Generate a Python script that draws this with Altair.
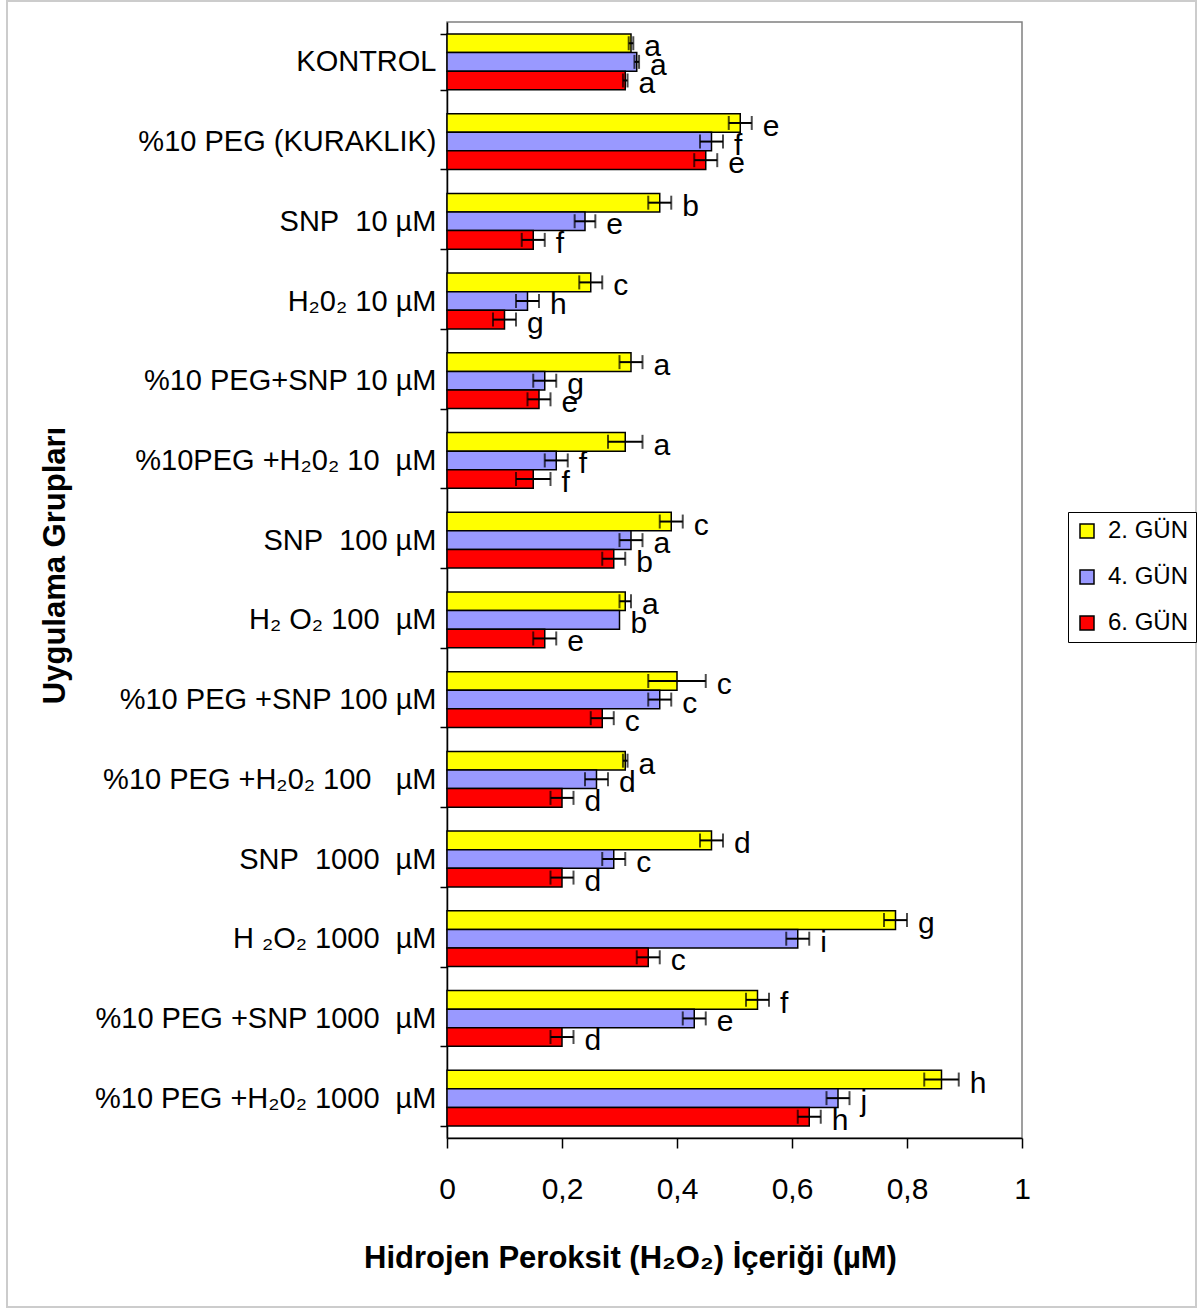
import altair as alt
import pandas as pd

NB = "\u00a0"  # keeps the wide gaps inside the group names

# Treatment groups (top to bottom)
groups = [
    "KONTROL",
    "%10 PEG (KURAKLIK)",
    "SNP" + NB * 2 + "10 µM",
    "H₂0₂ 10 µM",
    "%10 PEG+SNP 10 µM",
    "%10PEG +H₂0₂ 10" + NB * 2 + "µM",
    "SNP" + NB * 2 + "100 µM",
    "H₂ O₂ 100" + NB * 2 + "µM",
    "%10 PEG +SNP 100 µM",
    "%10 PEG +H₂0₂ 100" + NB * 3 + "µM",
    "SNP" + NB * 2 + "1000" + NB * 2 + "µM",
    "H ₂O₂ 1000" + NB * 2 + "µM",
    "%10 PEG +SNP 1000" + NB * 2 + "µM",
    "%10 PEG +H₂0₂ 1000" + NB * 2 + "µM",
]

days = ["2. GÜN", "4. GÜN", "6. GÜN"]
day_colors = ["#FFFF00", "#9999FF", "#FF0000"]

# Mean H2O2 content per day
day2 = [0.32, 0.51, 0.37, 0.25, 0.32, 0.31, 0.39, 0.31, 0.40, 0.31, 0.46, 0.78, 0.54, 0.86]
day4 = [0.33, 0.46, 0.24, 0.14, 0.17, 0.19, 0.32, 0.30, 0.37, 0.26, 0.29, 0.61, 0.43, 0.68]
day6 = [0.31, 0.45, 0.15, 0.10, 0.16, 0.15, 0.29, 0.17, 0.27, 0.20, 0.20, 0.35, 0.20, 0.63]

# Standard errors
err2 = [0.004, 0.02, 0.02, 0.02, 0.02, 0.03, 0.02, 0.01, 0.05, 0.004, 0.02, 0.02, 0.02, 0.03]
err4 = [0.004, 0.02, 0.018, 0.02, 0.02, 0.02, 0.02, 0.0, 0.02, 0.02, 0.02, 0.02, 0.02, 0.02]
err6 = [0.004, 0.02, 0.02, 0.02, 0.02, 0.03, 0.02, 0.02, 0.02, 0.02, 0.02, 0.02, 0.02, 0.02]

# Significance letters
let2 = ["a", "e", "b", "c", "a", "a", "c", "a", "c", "a", "d", "g", "f", "h"]
let4 = ["a", "f", "e", "h", "g", "f", "a", "b", "c", "d", "c", "i", "e", "j"]
let6 = ["a", "e", "f", "g", "e", "f", "b", "e", "c", "d", "d", "c", "d", "h"]

rows = []
for day, vals, errs, lets in zip(days, [day2, day4, day6], [err2, err4, err6], [let2, let4, let6]):
    for g, v, e, l in zip(groups, vals, errs, lets):
        rows.append({"grup": g, "gun": day, "deger": v, "hata": e,
                     "alt": v - e, "ust": v + e, "harf": l})
df = pd.DataFrame(rows)

FONT = "Liberation Sans"

y_enc = alt.Y("grup:N", sort=groups,
              scale=alt.Scale(paddingInner=0.3, paddingOuter=0.15),
              axis=alt.Axis(title="Uygulama Grupları", tickBand="extent",
                            labelFontSize=29, labelLimit=420, labelPadding=4,
                            tickSize=7, titleFontSize=31, titleFontWeight="bold",
                            titleX=-392, titleY=543, titleAlign="center",
                            titleBaseline="middle"))
yoff = alt.YOffset("gun:N", sort=days)

x_scale = alt.Scale(domain=[0, 1], nice=False)

bars = alt.Chart(df).mark_bar(stroke="black", strokeWidth=1.5).encode(
    x=alt.X("deger:Q", scale=x_scale,
            axis=alt.Axis(title="Hidrojen Peroksit (H₂O₂) İçeriği (µM)",
                          values=[0, 0.2, 0.4, 0.6, 0.8, 1], format=".1~f",
                          labelExpr="replace(datum.label, '.', ',')",
                          labelFlush=False,
                          labelFontSize=30, labelPadding=26, tickSize=10,
                          titleFontSize=31, titleFontWeight="bold",
                          titleX=183, titleY=120, titleAlign="center",
                          titleBaseline="middle")),
    y=y_enc,
    yOffset=yoff,
    color=alt.Color("gun:N", sort=days,
                    scale=alt.Scale(domain=days, range=day_colors),
                    legend=alt.Legend(title=None, orient="none", legendX=621, legendY=490,
                                      symbolType="square", symbolSize=196,
                                      symbolStrokeColor="black", symbolStrokeWidth=1.5,
                                      labelFontSize=24, labelOffset=9,
                                      rowPadding=22, padding=7,
                                      strokeColor="black", fillColor="white")),
)

err_data = alt.Chart(df).transform_filter("datum.hata > 0")

err_lines = err_data.mark_rule(color="black", strokeWidth=2).encode(
    x=alt.X("alt:Q", scale=x_scale), x2="ust:Q", y=alt.Y("grup:N", sort=groups), yOffset=yoff)

caps_lo = err_data.mark_tick(color="black", thickness=2, size=14).encode(
    x=alt.X("alt:Q", scale=x_scale), y=alt.Y("grup:N", sort=groups), yOffset=yoff)
caps_hi = err_data.mark_tick(color="black", thickness=2, size=14).encode(
    x=alt.X("ust:Q", scale=x_scale), y=alt.Y("grup:N", sort=groups), yOffset=yoff)

letters = alt.Chart(df).mark_text(align="left", baseline="middle", dx=11, dy=4,
                                  fontSize=30, font=FONT, color="black").encode(
    x=alt.X("ust:Q", scale=x_scale), y=alt.Y("grup:N", sort=groups), yOffset=yoff,
    text="harf:N")

# light frame around the whole figure
frame = alt.Chart(pd.DataFrame({"k": [0]})).mark_rect(
    fill=None, stroke="#cccccc", strokeWidth=2).encode(
    x=alt.value(-440), x2=alt.value(749), y=alt.value(-21), y2=alt.value(1285))

chart = alt.layer(frame, bars, err_lines, caps_lo, caps_hi, letters).properties(
    width=575, height=1116,
    autosize=alt.AutoSizeParams(type="none"),
    padding={"left": 447, "top": 22, "right": 176, "bottom": 171},
).configure(
    font=FONT,
).configure_view(
    stroke="#808080", strokeWidth=1.5,
).configure_axis(
    domainColor="black", domainWidth=1.5, tickColor="black", tickWidth=1.5,
    labelColor="black", titleColor="black", grid=False, labelFont=FONT, titleFont=FONT,
).configure_legend(
    labelFont=FONT, labelColor="black",
)

chart.save("out.html", embed_options={"renderer": "svg", "actions": False})
